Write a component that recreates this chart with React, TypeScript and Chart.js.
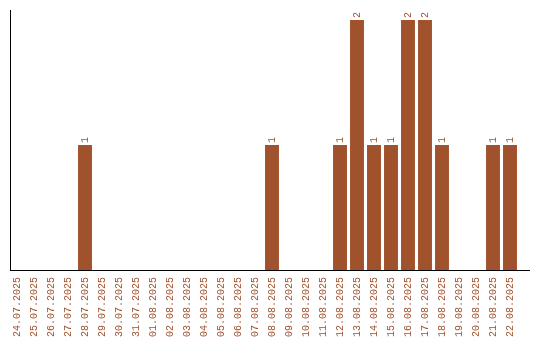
import React, { useEffect, useRef } from "react";
import { Chart, registerables } from "chart.js";

Chart.register(...registerables);

const categories: string[] = [
  "24.07.2025", "25.07.2025", "26.07.2025", "27.07.2025", "28.07.2025",
  "29.07.2025", "30.07.2025", "31.07.2025", "01.08.2025", "02.08.2025",
  "03.08.2025", "04.08.2025", "05.08.2025", "06.08.2025", "07.08.2025",
  "08.08.2025", "09.08.2025", "10.08.2025", "11.08.2025", "12.08.2025",
  "13.08.2025", "14.08.2025", "15.08.2025", "16.08.2025", "17.08.2025",
  "18.08.2025", "19.08.2025", "20.08.2025", "21.08.2025", "22.08.2025",
];

const counts: number[] = [
  0, 0, 0, 0, 1,
  0, 0, 0, 0, 0,
  0, 0, 0, 0, 0,
  1, 0, 0, 0, 1,
  2, 1, 1, 2, 2,
  1, 0, 0, 1, 1,
];

const BAR_COLOR = "#a0522d";
const TEXT_COLOR = "#a0522d";
const FONT = "'Liberation Mono', 'DejaVu Sans Mono', monospace";

const axisLinesPlugin = {
  id: "axisLines",
  afterDraw(chart: any) {
    const { ctx, chartArea } = chart;
    ctx.save();
    ctx.strokeStyle = "#000";
    ctx.lineWidth = 1;
    ctx.beginPath();
    ctx.moveTo(10.5, 10);
    ctx.lineTo(10.5, chartArea.bottom + 0.5);
    ctx.moveTo(10, chartArea.bottom + 0.5);
    ctx.lineTo(530, chartArea.bottom + 0.5);
    ctx.stroke();
    ctx.restore();
  },
};

const valueLabelPlugin = {
  id: "valueLabels",
  afterDatasetsDraw(chart: any) {
    const { ctx } = chart;
    const meta = chart.getDatasetMeta(0);
    const data = chart.data.datasets[0].data as number[];
    ctx.save();
    ctx.fillStyle = TEXT_COLOR;
    ctx.font = `10px ${FONT}`;
    ctx.textAlign = "left";
    ctx.textBaseline = "middle";
    meta.data.forEach((el: any, i: number) => {
      const v = data[i];
      if (!v) return;
      ctx.save();
      ctx.translate(el.x, el.y - 2);
      ctx.rotate(-Math.PI / 2);
      ctx.fillText(String(v), 0, 0);
      ctx.restore();
    });
    ctx.restore();
  },
};

export default function App() {
  const ref = useRef<HTMLCanvasElement | null>(null);

  useEffect(() => {
    document.body.style.margin = "0";
    const canvas = ref.current;
    if (!canvas) return;
    const chart = new Chart(canvas, {
      type: "bar",
      data: {
        labels: categories,
        datasets: [
          {
            data: counts,
            backgroundColor: BAR_COLOR,
            borderWidth: 0,
            categoryPercentage: 1,
            barPercentage: 0.82,
          },
        ],
      },
      options: {
        responsive: false,
        animation: false,
        layout: { padding: { left: 8.5, right: 21.5, top: 10, bottom: 0 } },
        plugins: {
          legend: { display: false },
          tooltip: { enabled: false },
          title: { display: false },
        },
        scales: {
          x: {
            grid: { display: false, drawTicks: false },
            border: { display: false },
            ticks: {
              autoSkip: false,
              minRotation: 90,
              maxRotation: 90,
              padding: 7,
              color: TEXT_COLOR,
              font: { family: FONT, size: 10 },
            },
            afterFit(scale: any) {
              scale.height = 70;
            },
          },
          y: {
            display: false,
            min: 0,
            max: 2.08,
          },
        },
      },
      plugins: [valueLabelPlugin, axisLinesPlugin],
    });
    return () => chart.destroy();
  }, []);

  return (
    <div style={{ position: "absolute", left: 0, top: 0, width: 540, height: 340, background: "#fff" }}>
      <canvas ref={ref} width={540} height={340} style={{ width: 540, height: 340 }} />
    </div>
  );
}
